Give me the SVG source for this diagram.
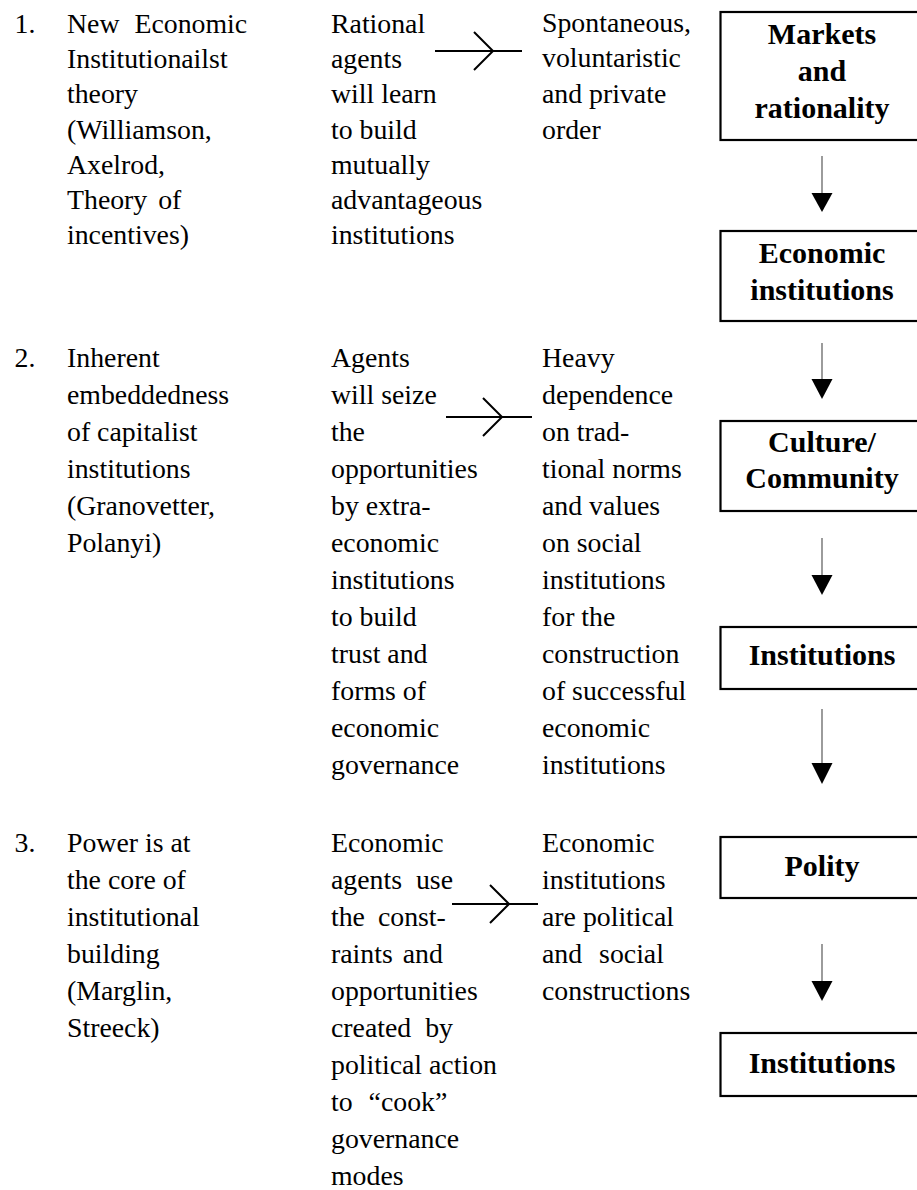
<svg xmlns="http://www.w3.org/2000/svg" width="917" height="1190" viewBox="0 0 917 1190">
  <style>
    .body { font-family: "Liberation Serif", "Times New Roman", serif; font-size: 27.8px; fill: #000; }
    .box-label { font-family: "Liberation Serif", "Times New Roman", serif; font-size: 30px; font-weight: bold; fill: #000; text-anchor: middle; }
    .box { fill: #fff; stroke: #000; stroke-width: 2.2; }
    .flow { stroke: #000; stroke-width: 2; fill: none; stroke-linecap: butt; }
    .down { stroke: #666; stroke-width: 1.3; fill: none; }
    .head { fill: #000; }
  </style>
  <defs>
    <marker id="tri" viewBox="0 0 21 19" markerWidth="21" markerHeight="19" refX="10.5" refY="19" orient="auto-start-reverse" markerUnits="userSpaceOnUse">
      <path d="M0,0 L21,0 L10.5,19 Z" class="head"/>
    </marker>
  </defs>
  <rect width="917" height="1190" fill="#fff"/>

  <!-- Row 1: new economic institutionalist view -->
  <g id="row1-theory" class="body">
    <text x="14.5" y="33">1.</text>
    <text x="67" y="33" word-spacing="8">New Economic</text>
    <text x="67" y="68">Institutionailst</text>
    <text x="67" y="103">theory</text>
    <text x="67" y="139">(Williamson,</text>
    <text x="67" y="174">Axelrod,</text>
    <text x="67" y="209" word-spacing="4">Theory of</text>
    <text x="67" y="244">incentives)</text>
  </g>
  <g id="row1-mechanism" class="body">
    <text x="331" y="33">Rational</text>
    <text x="331" y="68">agents</text>
    <text x="331" y="103">will learn</text>
    <text x="331" y="139">to build</text>
    <text x="331" y="174">mutually</text>
    <text x="331" y="209">advantageous</text>
    <text x="331" y="244">institutions</text>
  </g>
  <g id="row1-outcome" class="body">
    <text x="542" y="32">Spontaneous,</text>
    <text x="542" y="67">voluntaristic</text>
    <text x="542" y="103">and private</text>
    <text x="542" y="139">order</text>
  </g>

  <!-- Row 2: embeddedness view -->
  <g id="row2-theory" class="body">
    <text x="14.5" y="367">2.</text>
    <text x="67" y="367">Inherent</text>
    <text x="67" y="404">embeddedness</text>
    <text x="67" y="441">of capitalist</text>
    <text x="67" y="478">institutions</text>
    <text x="67" y="515">(Granovetter,</text>
    <text x="67" y="552">Polanyi)</text>
  </g>
  <g id="row2-mechanism" class="body">
    <text x="331" y="367">Agents</text>
    <text x="331" y="404">will seize</text>
    <text x="331" y="441">the</text>
    <text x="331" y="478">opportunities</text>
    <text x="331" y="515">by extra-</text>
    <text x="331" y="552">economic</text>
    <text x="331" y="589">institutions</text>
    <text x="331" y="626">to build</text>
    <text x="331" y="663">trust and</text>
    <text x="331" y="700">forms of</text>
    <text x="331" y="737">economic</text>
    <text x="331" y="774">governance</text>
  </g>
  <g id="row2-outcome" class="body">
    <text x="542" y="367">Heavy</text>
    <text x="542" y="404">dependence</text>
    <text x="542" y="441">on trad-</text>
    <text x="542" y="478">tional norms</text>
    <text x="542" y="515">and values</text>
    <text x="542" y="552">on social</text>
    <text x="542" y="589">institutions</text>
    <text x="542" y="626">for the</text>
    <text x="542" y="663">construction</text>
    <text x="542" y="700">of successful</text>
    <text x="542" y="737">economic</text>
    <text x="542" y="774">institutions</text>
  </g>

  <!-- Row 3: power view -->
  <g id="row3-theory" class="body">
    <text x="14.5" y="852">3.</text>
    <text x="67" y="852">Power is at</text>
    <text x="67" y="889">the core of</text>
    <text x="67" y="926">institutional</text>
    <text x="67" y="963">building</text>
    <text x="67" y="1000">(Marglin,</text>
    <text x="67" y="1037">Streeck)</text>
  </g>
  <g id="row3-mechanism" class="body">
    <text x="331" y="852">Economic</text>
    <text x="331" y="889" word-spacing="7">agents use</text>
    <text x="331" y="926" word-spacing="6">the const-</text>
    <text x="331" y="963" word-spacing="3">raints and</text>
    <text x="331" y="1000">opportunities</text>
    <text x="331" y="1037" word-spacing="7">created by</text>
    <text x="331" y="1074">political action</text>
    <text x="331" y="1111" word-spacing="9">to “cook”</text>
    <text x="331" y="1148">governance</text>
    <text x="331" y="1185">modes</text>
  </g>
  <g id="row3-outcome" class="body">
    <text x="542" y="852">Economic</text>
    <text x="542" y="889">institutions</text>
    <text x="542" y="926">are political</text>
    <text x="542" y="963" word-spacing="10">and social</text>
    <text x="542" y="1000">constructions</text>
  </g>

  <!-- Right-hand chain of boxes -->
  <g id="box-markets">
    <rect class="box" x="720.5" y="12" width="210" height="128"/>
    <text class="box-label" x="822" y="43.5">Markets</text>
    <text class="box-label" x="822" y="81">and</text>
    <text class="box-label" x="822" y="118">rationality</text>
  </g>
  <g id="box-economic-institutions">
    <rect class="box" x="720.5" y="231" width="210" height="90"/>
    <text class="box-label" x="822" y="263">Economic</text>
    <text class="box-label" x="822" y="300">institutions</text>
  </g>
  <g id="box-culture">
    <rect class="box" x="720.5" y="421" width="210" height="90"/>
    <text class="box-label" x="822" y="452">Culture/</text>
    <text class="box-label" x="822" y="488">Community</text>
  </g>
  <g id="box-institutions-1">
    <rect class="box" x="720.5" y="627" width="210" height="62"/>
    <text class="box-label" x="822" y="665">Institutions</text>
  </g>
  <g id="box-polity">
    <rect class="box" x="720.5" y="837" width="210" height="61"/>
    <text class="box-label" x="822" y="876">Polity</text>
  </g>
  <g id="box-institutions-2">
    <rect class="box" x="720.5" y="1033" width="210" height="63"/>
    <text class="box-label" x="822" y="1073">Institutions</text>
  </g>

  <!-- Connectors -->
  <g id="connectors">
    <!-- horizontal arrows with open chevron heads -->
    <path class="flow" d="M435,51 H522 M474,32 L493,51 L474,70"/>
    <path class="flow" d="M446,417 H532 M483,398 L502,417 L483,436"/>
    <path class="flow" d="M452,904 H538 M490,885 L509,904 L490,923"/>
    <!-- vertical arrows between boxes -->
    <line class="down" x1="822" y1="156" x2="822" y2="194"/>
    <path class="head" d="M811.5,193 H832.5 L822,212 Z"/>
    <line class="down" x1="822" y1="343" x2="822" y2="380"/>
    <path class="head" d="M811.5,379 H832.5 L822,399 Z"/>
    <line class="down" x1="822" y1="538" x2="822" y2="576"/>
    <path class="head" d="M811.5,575 H832.5 L822,595 Z"/>
    <line class="down" x1="822" y1="709" x2="822" y2="764"/>
    <path class="head" d="M811.5,763 H832.5 L822,784 Z"/>
    <line class="down" x1="822" y1="944" x2="822" y2="982"/>
    <path class="head" d="M811.5,981 H832.5 L822,1001 Z"/>
  </g>
</svg>
